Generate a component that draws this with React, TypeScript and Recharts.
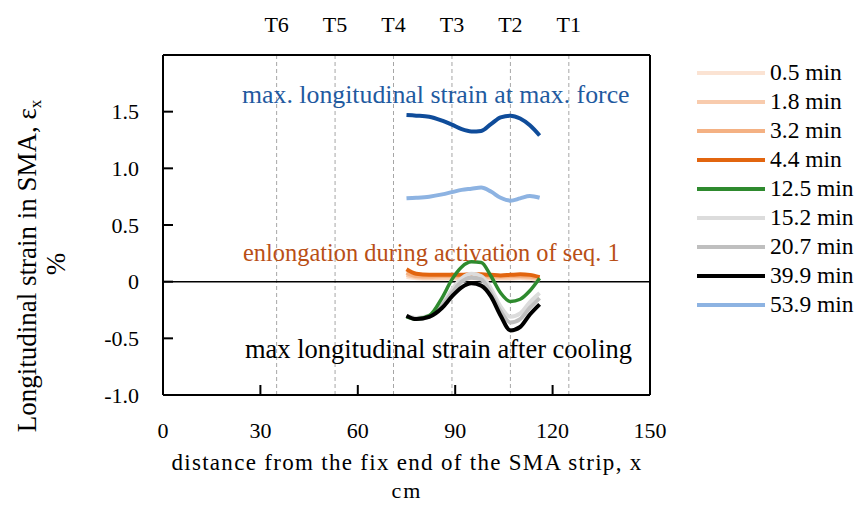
import React from 'react';
import { LineChart, Line, XAxis, YAxis, ReferenceLine } from 'recharts';

// distance x (cm) of the measuring points
const xs = [75, 78, 82, 86, 89, 92, 95, 98, 101, 104, 107, 110, 113, 116];

// strain (%) per time step
const s05 = [0.04, 0.03, 0.025, 0.025, 0.025, 0.025, 0.03, 0.03, 0.025, 0.025, 0.025, 0.03, 0.025, 0.015];
const s18 = [0.06, 0.04, 0.035, 0.035, 0.035, 0.035, 0.04, 0.04, 0.035, 0.035, 0.035, 0.04, 0.035, 0.02];
const s32 = [0.08, 0.05, 0.045, 0.05, 0.05, 0.045, 0.05, 0.05, 0.045, 0.045, 0.05, 0.05, 0.045, 0.03];
const s44 = [0.11, 0.07, 0.06, 0.06, 0.06, 0.06, 0.065, 0.065, 0.06, 0.055, 0.06, 0.065, 0.06, 0.04];
const s125 = [-0.31, -0.33, -0.3, -0.14, 0.02, 0.13, 0.175, 0.17, 0.05, -0.1, -0.175, -0.155, -0.08, 0.03];
const s152 = [-0.3, -0.32, -0.3, -0.2, -0.07, 0.03, 0.07, 0.05, -0.06, -0.22, -0.31, -0.28, -0.18, -0.1];
const s207 = [-0.3, -0.33, -0.31, -0.21, -0.1, 0.0, 0.035, 0.02, -0.1, -0.26, -0.36, -0.33, -0.23, -0.145];
const s399 = [-0.3, -0.33, -0.31, -0.23, -0.13, -0.05, -0.015, -0.035, -0.13, -0.3, -0.43, -0.4, -0.29, -0.2];
const s539 = [0.735, 0.74, 0.75, 0.77, 0.79, 0.81, 0.82, 0.83, 0.795, 0.74, 0.715, 0.735, 0.755, 0.74];
const maxForce = [1.47, 1.465, 1.455, 1.42, 1.385, 1.345, 1.325, 1.33, 1.39, 1.45, 1.465, 1.44, 1.38, 1.29];

const xTicks = [0, 30, 60, 90, 120, 150];
const yTicks = [-1, -0.5, 0, 0.5, 1, 1.5];
const tPos = [35, 53, 71, 89, 107, 125];
const tNames = ['T6', 'T5', 'T4', 'T3', 'T2', 'T1'];

const series = [
  { key: 's05', name: '0.5 min', values: s05, color: '#FBE3D3' },
  { key: 's18', name: '1.8 min', values: s18, color: '#F8CBAD' },
  { key: 's32', name: '3.2 min', values: s32, color: '#F4B183' },
  { key: 's44', name: '4.4 min', values: s44, color: '#E2650F' },
  { key: 's152', name: '15.2 min', values: s152, color: '#DCDCDC' },
  { key: 's207', name: '20.7 min', values: s207, color: '#BFBFBF' },
  { key: 's125', name: '12.5 min', values: s125, color: '#2E8A2E' },
  { key: 's399', name: '39.9 min', values: s399, color: '#000000' },
  { key: 's539', name: '53.9 min', values: s539, color: '#8DB3E2' },
];
const legendOrder = ['s05', 's18', 's32', 's44', 's125', 's152', 's207', 's399', 's539'];

const data = xs.map((x, i) => {
  const row: any = { x, maxForce: maxForce[i] };
  series.forEach((s) => { row[s.key] = s.values[i]; });
  return row;
});

const FONT = "'Liberation Serif', 'Times New Roman', serif";

const YLabel = () => (
  <g fontFamily={FONT} fontSize={27} fill="#000">
    <text x={30} y={266} transform="rotate(-90 30 266)" textAnchor="middle" dominantBaseline="middle">
      Longitudinal strain in SMA, ε<tspan fontSize={17} dy={7}>x</tspan>
    </text>
    <text x={59} y={264} transform="rotate(-90 59 264)" textAnchor="middle" dominantBaseline="middle">%</text>
  </g>
);

const XLabel = () => (
  <g fontFamily={FONT} fontSize={23} fill="#000">
    <text x={407} y={470} textAnchor="middle" letterSpacing={1.3}>distance from the fix end of the SMA strip, x</text>
    <text x={407} y={498} fontSize={22} textAnchor="middle" letterSpacing={2}>cm</text>
  </g>
);

const App = () => {
  return (
    <div style={{ position: 'absolute', left: 0, top: 0, width: 862, height: 506, background: '#fff', fontFamily: FONT }}>
      <LineChart width={862} height={506} data={data} margin={{ top: 55, right: 212, bottom: 0, left: 0 }}>
        <XAxis
          dataKey="x" type="number" domain={[0, 150]} ticks={xTicks} height={111}
          axisLine={{ stroke: '#000', strokeWidth: 2 }} tickLine={{ stroke: '#000', strokeWidth: 2 }}
          tickSize={-10} tickMargin={37}
          tick={{ fill: '#000', fontSize: 22, fontFamily: FONT }}
          label={{ content: () => <XLabel /> }}
        />
        <YAxis
          type="number" domain={[-1, 2]} ticks={yTicks} width={163}
          tickFormatter={(v: number) => (v === 0 ? '0' : v.toFixed(1))}
          axisLine={{ stroke: '#000', strokeWidth: 2 }} tickLine={{ stroke: '#000', strokeWidth: 2 }}
          tickSize={-10} tickMargin={34}
          tick={{ fill: '#000', fontSize: 22, fontFamily: FONT }}
          label={{ content: () => <YLabel /> }}
        />
        {tPos.map((t, i) => (
          <ReferenceLine
            key={t} x={t} stroke="#A6A6A6" strokeDasharray="4 3" strokeWidth={1}
            label={{ value: tNames[i], position: 'top', offset: 23, fill: '#000', fontSize: 22, fontFamily: FONT }}
          />
        ))}
        <ReferenceLine y={2} stroke="#000" strokeWidth={2} />
        <ReferenceLine x={150} stroke="#000" strokeWidth={2} />
        <ReferenceLine y={0} stroke="#000" strokeWidth={1.5} />
        {series.map((s) => (
          <Line
            key={s.key} dataKey={s.key} name={s.name} type="monotone" stroke={s.color}
            strokeWidth={s.key === 's125' ? 3.5 : 4} dot={false} isAnimationActive={false}
          />
        ))}
        <Line dataKey="maxForce" type="monotone" stroke="#0F4C9A" strokeWidth={4} dot={false} isAnimationActive={false} />
      </LineChart>

      <div style={{ position: 'absolute', left: 242, top: 80, fontSize: 25.8, color: '#1F5AA0', whiteSpace: 'nowrap' }}>
        max. longitudinal strain at max. force
      </div>
      <div style={{ position: 'absolute', left: 243, top: 239, fontSize: 24.4, color: '#B94F16', whiteSpace: 'nowrap' }}>
        enlongation during activation of seq. 1
      </div>
      <div style={{ position: 'absolute', left: 245, top: 334, fontSize: 26.5, color: '#000', whiteSpace: 'nowrap' }}>
        max longitudinal strain after cooling
      </div>

      <div style={{ position: 'absolute', left: 697, top: 58 }}>
        {legendOrder.map((k) => {
          const s = series.find((d) => d.key === k)!;
          return (
            <div key={k} style={{ display: 'flex', alignItems: 'center', height: 29 }}>
              <div style={{ width: 68, height: 4, background: s.color, marginRight: 5 }} />
              <span style={{ fontSize: 23.5, lineHeight: '29px', whiteSpace: 'nowrap' }}>{s.name}</span>
            </div>
          );
        })}
      </div>
    </div>
  );
};

export default App;
